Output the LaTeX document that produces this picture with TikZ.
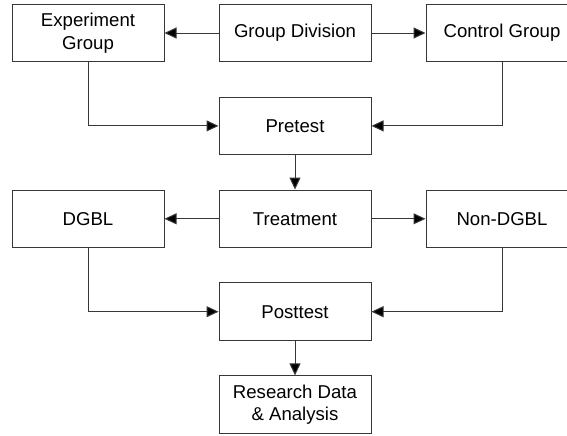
\documentclass[tikz,border=0pt]{standalone}
\usepackage{fontspec}
\setmainfont{Liberation Sans}
\usepackage{tikz}
\usetikzlibrary{positioning,arrows.meta}
\definecolor{linegray}{RGB}{55,55,55}

\begin{document}
\begin{tikzpicture}[
  every node/.style={font=\fontsize{9.3}{11.2}\selectfont},
  box/.style={rectangle, draw=linegray, line width=0.5pt, minimum width=76pt,
              minimum height=28.75pt, align=center, inner sep=2pt},
  flow/.style={-{Triangle[length=6pt,width=5.5pt,fill=black]}, line width=0.5pt, draw=linegray},
  node distance=17.2pt and 27pt
]
  \useasboundingbox (0,0) rectangle (283.5pt,217.5pt);

  \node[box] (div) at (147.5pt,201pt) {Group Division};
  \node[box, left=of div] (exp) {Experiment\\Group};
  \node[box, right=of div] (ctrl) {Control Group};

  \node[box, below=of div] (pre) {Pretest};

  \node[box, below=of pre] (treat) {Treatment};
  \node[box, left=of treat] (dgbl) {DGBL};
  \node[box, right=of treat] (nondgbl) {Non-DGBL};

  \node[box, below=of treat] (post) {Posttest};
  \node[box, below=of post] (data) {Research Data\\\& Analysis};

  \draw[flow] (div) -- (exp);
  \draw[flow] (div) -- (ctrl);
  \draw[flow] (exp) |- (pre);
  \draw[flow] (ctrl) |- (pre);
  \draw[flow] (pre) -- (treat);
  \draw[flow] (treat) -- (dgbl);
  \draw[flow] (treat) -- (nondgbl);
  \draw[flow] (dgbl) |- (post);
  \draw[flow] (nondgbl) |- (post);
  \draw[flow] (post) -- (data);
\end{tikzpicture}
\end{document}
